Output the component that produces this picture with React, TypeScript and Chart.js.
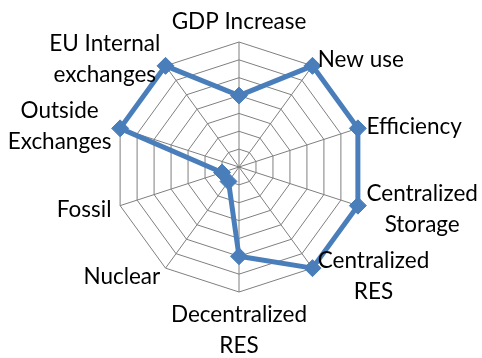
import React, { useEffect, useRef } from "react";
import { Chart, registerables } from "chart.js";

Chart.register(...registerables);

// Axis categories (multi-line labels as drawn in the reference)
const categories: string[][] = [
  ["GDP Increase"],
  ["New use"],
  ["Efficiency"],
  ["Centralized", "Storage"],
  ["Centralized", "RES"],
  ["Decentralized", "RES"],
  ["Nuclear"],
  ["Fossil"],
  ["Outside", "Exchanges"],
  ["EU Internal", "exchanges"],
];

// Series values
const scores: number[] = [4, 7, 7, 7, 7, 5, 1, 1, 7, 7];

// Scale settings
const scaleMin = 0;
const scaleMax = 7;
const scaleStep = 1;

const FONT_FAMILY = "Lato, 'Open Sans', sans-serif";
const FONT_SIZE = 22.5;
const LINE_H = 31;

const pointLabelPlugin = {
  id: "excelPointLabels",
  afterDraw(chart: any) {
    const scale = chart.scales.r;
    const ctx: CanvasRenderingContext2D = chart.ctx;
    const cap = FONT_SIZE * 0.72;
    ctx.save();
    ctx.font = `${FONT_SIZE}px ${FONT_FAMILY}`;
    ctx.fillStyle = "#000000";
    ctx.textBaseline = "alphabetic";
    ctx.textAlign = "center";
    categories.forEach((lines, i) => {
      const angle = scale.getIndexAngle(i);
      const s = Math.sin(angle);
      const c = Math.cos(angle);
      const vertical = Math.abs(s) < 0.05;
      const gap = vertical ? 6 : 9;
      const p = scale.getPointPosition(i, scale.drawingArea + gap);
      const widths = lines.map((l) => ctx.measureText(l).width);
      const bw = Math.max(...widths);
      let cx: number;
      if (vertical) cx = p.x;
      else if (s > 0) cx = p.x + bw / 2;
      else cx = p.x - bw / 2;
      const n = lines.length;
      let midY: number;
      if (vertical) midY = c > 0 ? p.y - (n * LINE_H) / 2 : p.y + (n * LINE_H) / 2;
      else midY = p.y;
      lines.forEach((line, k) => {
        const lineMid = midY + (k - (n - 1) / 2) * LINE_H;
        ctx.fillText(line, cx, lineMid + cap / 2);
      });
    });
    ctx.restore();
  },
};

export default function App() {
  const canvasRef = useRef<HTMLCanvasElement | null>(null);

  useEffect(() => {
    if (!canvasRef.current) return;
    const chart = new Chart(canvasRef.current, {
      type: "radar",
      data: {
        labels: categories.map((l) => l.join(" ")),
        datasets: [
          {
            label: "Series1",
            data: scores,
            borderColor: "#4A7EBB",
            backgroundColor: "#4A7EBB",
            borderWidth: 5,
            fill: false,
            pointStyle: "rectRot",
            pointRadius: 8.5,
            pointBorderWidth: 1,
            pointBackgroundColor: "#4A7EBB",
            pointBorderColor: "#4A7EBB",
            tension: 0,
          },
        ],
      },
      options: {
        animation: false,
        responsive: false,
        devicePixelRatio: 1,
        layout: { padding: { left: 114, right: 118, top: 42, bottom: 66 } },
        plugins: {
          legend: { display: false },
          tooltip: { enabled: false },
          title: { display: false },
        },
        scales: {
          r: {
            min: scaleMin,
            max: scaleMax,
            ticks: { display: false, stepSize: scaleStep },
            grid: { color: "#7F7F7F", lineWidth: 1 },
            angleLines: { color: "#7F7F7F", lineWidth: 1 },
            pointLabels: { display: false },
          },
        },
      },
      plugins: [pointLabelPlugin],
    });
    return () => chart.destroy();
  }, []);

  return (
    <div style={{ position: "fixed", left: 0, top: 0, width: 482, height: 358, background: "#ffffff" }}>
      <canvas ref={canvasRef} width={482} height={358} style={{ display: "block" }} />
    </div>
  );
}
